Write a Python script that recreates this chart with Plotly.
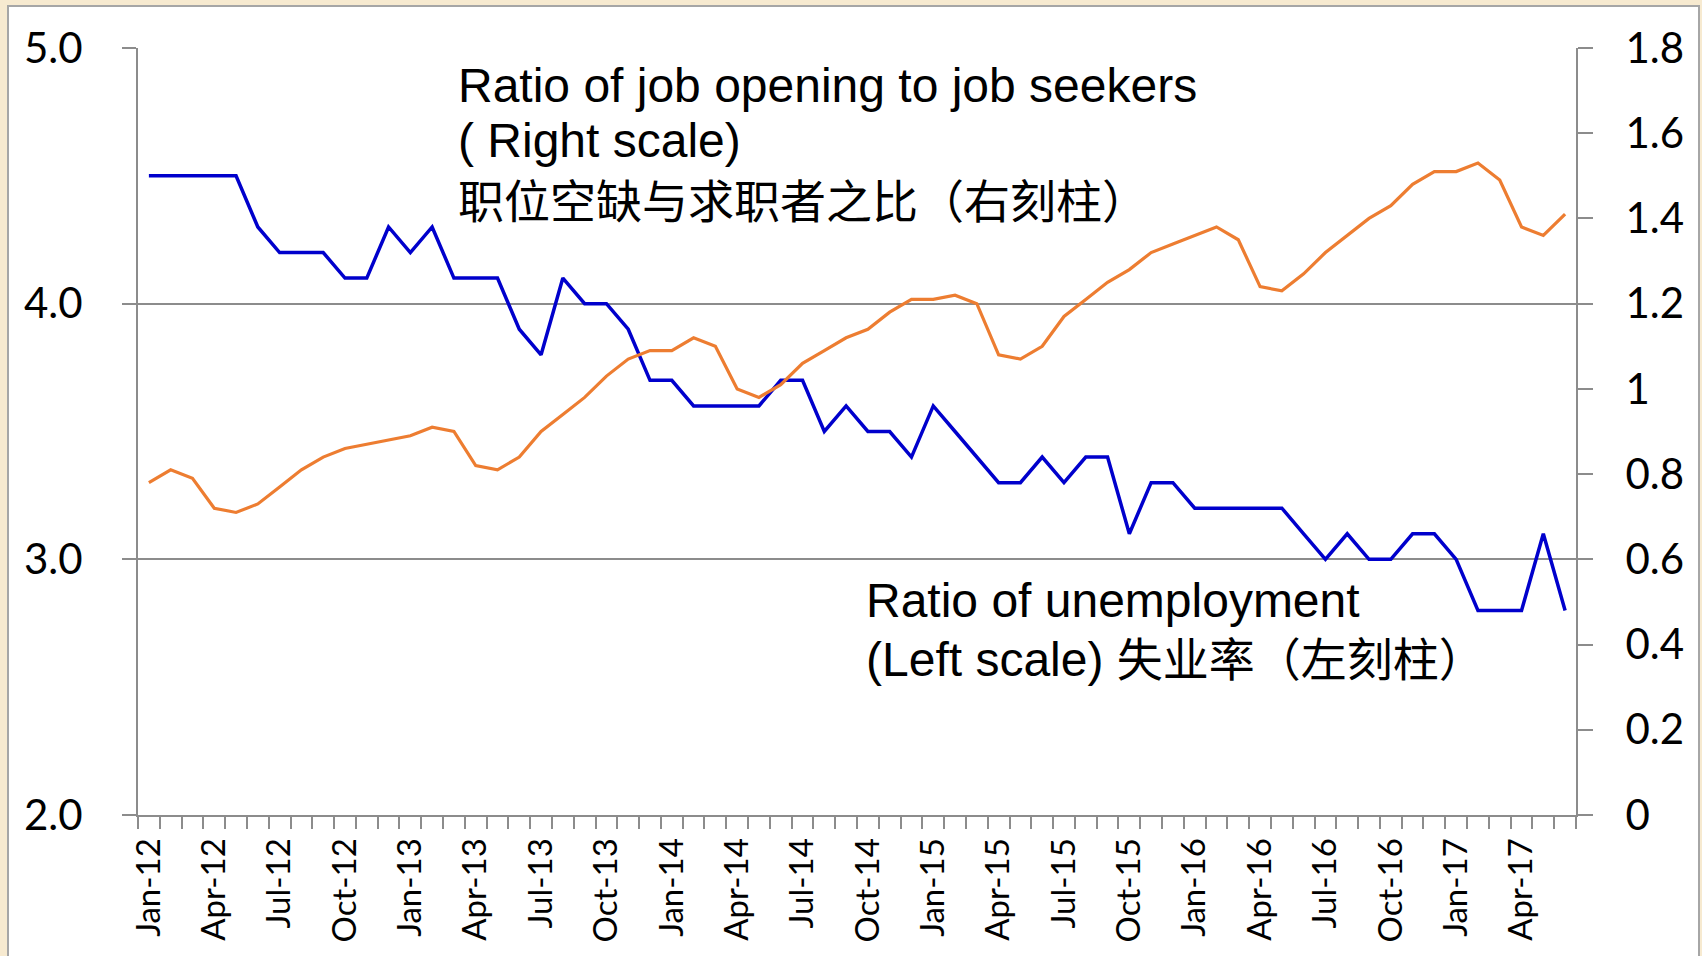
import plotly.graph_objects as go

# ---------------- data ----------------
months = [
    "Jan-12", "Feb-12", "Mar-12", "Apr-12", "May-12", "Jun-12", "Jul-12", "Aug-12", "Sep-12", "Oct-12", "Nov-12", "Dec-12",
    "Jan-13", "Feb-13", "Mar-13", "Apr-13", "May-13", "Jun-13", "Jul-13", "Aug-13", "Sep-13", "Oct-13", "Nov-13", "Dec-13",
    "Jan-14", "Feb-14", "Mar-14", "Apr-14", "May-14", "Jun-14", "Jul-14", "Aug-14", "Sep-14", "Oct-14", "Nov-14", "Dec-14",
    "Jan-15", "Feb-15", "Mar-15", "Apr-15", "May-15", "Jun-15", "Jul-15", "Aug-15", "Sep-15", "Oct-15", "Nov-15", "Dec-15",
    "Jan-16", "Feb-16", "Mar-16", "Apr-16", "May-16", "Jun-16", "Jul-16", "Aug-16", "Sep-16", "Oct-16", "Nov-16", "Dec-16",
    "Jan-17", "Feb-17", "Mar-17", "Apr-17", "May-17", "Jun-17",
]

tick_labels = [
    "Jan-12", "Apr-12", "Jul-12", "Oct-12", "Jan-13", "Apr-13", "Jul-13", "Oct-13",
    "Jan-14", "Apr-14", "Jul-14", "Oct-14", "Jan-15", "Apr-15", "Jul-15", "Oct-15",
    "Jan-16", "Apr-16", "Jul-16", "Oct-16", "Jan-17", "Apr-17",
]

# unemployment rate (left scale)
unemployment = [
    4.5, 4.5, 4.5, 4.5, 4.5, 4.3, 4.2, 4.2, 4.2, 4.1, 4.1, 4.3,
    4.2, 4.3, 4.1, 4.1, 4.1, 3.9, 3.8, 4.1, 4.0, 4.0, 3.9, 3.7,
    3.7, 3.6, 3.6, 3.6, 3.6, 3.7, 3.7, 3.5, 3.6, 3.5, 3.5, 3.4,
    3.6, 3.5, 3.4, 3.3, 3.3, 3.4, 3.3, 3.4, 3.4, 3.1, 3.3, 3.3,
    3.2, 3.2, 3.2, 3.2, 3.2, 3.1, 3.0, 3.1, 3.0, 3.0, 3.1, 3.1,
    3.0, 2.8, 2.8, 2.8, 3.1, 2.8,
]

# ratio of job openings to job seekers (right scale)
job_ratio = [
    0.78, 0.81, 0.79, 0.72, 0.71, 0.73, 0.77, 0.81, 0.84, 0.86, 0.87, 0.88,
    0.89, 0.91, 0.90, 0.82, 0.81, 0.84, 0.90, 0.94, 0.98, 1.03, 1.07, 1.09,
    1.09, 1.12, 1.10, 1.00, 0.98, 1.01, 1.06, 1.09, 1.12, 1.14, 1.18, 1.21,
    1.21, 1.22, 1.20, 1.08, 1.07, 1.10, 1.17, 1.21, 1.25, 1.28, 1.32, 1.34,
    1.36, 1.38, 1.35, 1.24, 1.23, 1.27, 1.32, 1.36, 1.40, 1.43, 1.48, 1.51,
    1.51, 1.53, 1.49, 1.38, 1.36, 1.41,
]

left_ticks = [2.0, 3.0, 4.0, 5.0]
right_ticks = [0, 0.2, 0.4, 0.6, 0.8, 1.0, 1.2, 1.4, 1.6, 1.8]
right_tick_text = ["0", "0.2", "0.4", "0.6", "0.8", "1", "1.2", "1.4", "1.6", "1.8"]

# ---------------- layout constants ----------------
W, H = 1702, 956
ML, MR, MT, MB = 138, 126, 48, 141
PW, PH = W - ML - MR, H - MT - MB
BEIGE = "#F7EAD0"

def px_x(px):
    return (px - ML) / PW

def px_y(py):
    return (H - MB - py) / PH

GRID = "#8C8C8C"
TICKFONT = "Lato, Open Sans, sans-serif"
TXT = "Liberation Sans, Arial, sans-serif"
CJK = "Noto Sans CJK SC"

x_idx = list(range(len(months)))
tick_idx = [months.index(t) for t in tick_labels]

fig = go.Figure()
fig.add_trace(go.Scatter(
    x=x_idx, y=unemployment, mode="lines", name="Ratio of unemployment",
    line=dict(color="#0000CC", width=3.5), yaxis="y",
))
fig.add_trace(go.Scatter(
    x=x_idx, y=job_ratio, mode="lines", name="Ratio of job opening to job seekers",
    line=dict(color="#ED7D31", width=3.2), yaxis="y2",
))

# white card with border over beige background
fig.add_shape(
    type="rect", xref="paper", yref="paper",
    x0=px_x(8), x1=px_x(1699), y0=px_y(970), y1=px_y(6),
    fillcolor="white", line=dict(color="#A6A6A6", width=2), layer="below",
)

def ann(text, px, py, size, family):
    fig.add_annotation(
        text=text, xref="paper", yref="paper", x=px_x(px), y=px_y(py),
        xanchor="left", yanchor="middle", showarrow=False, align="left",
        font=dict(size=size, family=family, color="black"),
    )

ann("Ratio of job opening to job seekers", 456, 85, 48, TXT)
ann("( Right scale)", 456, 141, 48, TXT)
ann("职位空缺与求职者之比（右刻柱）", 456, 198, 46, CJK)
ann("Ratio of unemployment", 864, 600, 48, TXT)
ann("(Left scale) <span style='font-family:Noto Sans CJK SC;font-size:46px'>失业率（左刻柱）</span>",
    864, 656, 48, TXT)

fig.update_layout(
    width=W, height=H,
    margin=dict(l=ML, r=MR, t=MT, b=MB, pad=0),
    paper_bgcolor=BEIGE,
    plot_bgcolor="white",
    showlegend=False,
    xaxis=dict(
        range=[-0.5, len(months) - 0.5],
        tickmode="array", tickvals=tick_idx, ticktext=tick_labels,
        tickangle=-90, ticks="", showgrid=False, zeroline=False,
        showline=True, linecolor=GRID, linewidth=2,
        tickfont=dict(family=TICKFONT, size=33, color="black"),
        ticklabelstandoff=8,
        minor=dict(tickmode="linear", tick0=-0.5, dtick=1, ticks="outside",
                   ticklen=12, tickcolor=GRID, tickwidth=1.5, showgrid=False),
        automargin=False,
    ),
    yaxis=dict(
        range=[2, 5], tickmode="array", tickvals=left_ticks, tickformat=".1f",
        showgrid=True, gridcolor=GRID, gridwidth=1.5, zeroline=False,
        showline=True, linecolor=GRID, linewidth=2,
        ticks="outside", ticklen=14, tickcolor=GRID, tickwidth=1.5,
        tickfont=dict(family=TICKFONT, size=42, color="black"),
        ticklabelstandoff=31,
        automargin=False,
    ),
    yaxis2=dict(
        range=[0, 1.8], overlaying="y", side="right",
        tickmode="array", tickvals=right_ticks, ticktext=right_tick_text,
        showgrid=False, zeroline=False,
        showline=True, linecolor=GRID, linewidth=2,
        ticks="outside", ticklen=15, tickcolor=GRID, tickwidth=1.5,
        tickfont=dict(family=TICKFONT, size=42, color="black"),
        ticklabelstandoff=24,
        automargin=False,
    ),
)

fig.write_html(
    "out.html",
    config={"displayModeBar": False},
    post_script="document.body.style.margin='0';document.body.style.background='%s';" % BEIGE,
)
